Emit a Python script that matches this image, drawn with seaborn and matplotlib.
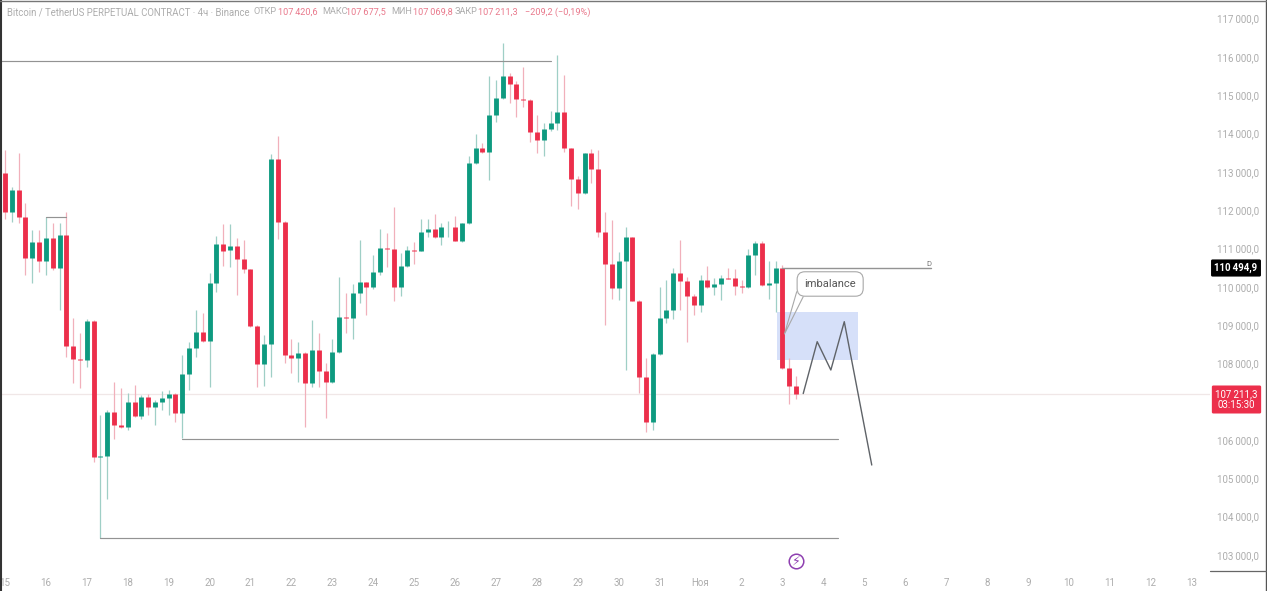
import numpy as np
import pandas as pd
import seaborn as sns
import matplotlib
matplotlib.use("Agg")
import matplotlib.pyplot as plt
from matplotlib.patches import Rectangle

# свечи 4ч, BTCUSDT
opens = [112960, 111958, 112516, 111827, 110741, 111175, 110679, 111263, 110480, 111349,
         108460, 108113, 108095, 109113, 105563, 105589, 106738, 106390, 106346, 106999,
         106633, 107129, 106868, 106999, 107103, 107192, 106712, 107714, 108408, 108826,
         108575, 110089, 111115, 110950, 111055, 110715, 110454, 108982, 107983, 108497,
         113333, 111697, 108217, 108147, 108278, 107479, 108348, 107808, 107505, 108304,
         109201, 109183, 109836, 110115, 110000, 110376, 111002, 110984, 109984, 110548,
         110958, 110940, 111436, 111506, 111305, 111550, 111558, 111185, 111655, 113221,
         113628, 113524, 114481, 114917, 115507, 115283, 114899, 114873, 114046, 113829,
         114108, 114265, 114568, 113612, 112811, 112438, 113482, 113064, 111436, 110593,
         109958, 110671, 111289, 109635, 107651, 106469, 108244, 109175, 109392, 110366,
         110149, 109765, 109522, 110175, 110000, 110071, 110235, 110235, 110026, 109984,
         110827, 111133, 110037, 110105, 110480, 107870, 107420.6]
highs = [113568, 112610, 113490, 112185, 111480, 111480, 111819, 111671, 111663, 111958,
         109175, 108792, 109157, 109131, 106651, 106782, 107505, 107356, 107226, 107434,
         107173, 107200, 107043, 107278, 107304, 107226, 108217, 108565, 109392, 109314,
         110358, 111323, 111637, 111637, 111271, 111219, 110470, 109000, 108739, 113464,
         113933, 111710, 108627, 108565, 108290, 109131, 108792, 108001, 108635, 110261,
         109844, 110071, 111219, 110130, 110827, 111498, 111410, 112072, 110872, 111062,
         111175, 111767, 111767, 111898, 111671, 111715, 111845, 111670, 113411, 113978,
         113743, 115507, 115395, 116353, 115578, 115377, 115742, 114890, 114481, 114273,
         114586, 116047, 115525, 113630, 112889, 113500, 113586, 113568, 111958, 111741,
         110914, 111566, 111310, 109650, 108139, 108260, 110000, 110175, 110488, 111219,
         110261, 109800, 110305, 110540, 110227, 110305, 110488, 110454, 110175, 110984,
         111201, 111201, 110679, 110679, 110566, 108131, 107677.5]
lows = [111767, 111697, 111663, 110305, 110105, 110392, 110305, 110436, 109392, 108173,
        107479, 107356, 107912, 105433, 103433, 104459, 106017, 106312, 106260, 106607,
        106547, 106651, 106390, 106782, 106651, 106477, 106043, 107304, 108173, 108557,
        107382, 109870, 110540, 110522, 109783, 110350, 108956, 107374, 107408, 107651,
        111245, 108001, 107756, 107521, 106346, 107390, 107390, 106565, 107479, 108278,
        108792, 108635, 109567, 109261, 109932, 110305, 110506, 109635, 109765, 110522,
        110593, 110932, 111305, 111271, 111088, 111305, 111185, 111170, 111640, 113210,
        113498, 112785, 114307, 114900, 114787, 114421, 114698, 113785, 113482, 113419,
        114072, 114090, 113524, 112106, 112020, 112420, 112699, 111305, 109000, 109671,
        109653, 107826, 109620, 107234, 106216, 106260, 108220, 109045, 109149, 109392,
        108565, 109261, 109348, 109966, 109783, 109653, 110190, 109783, 109844, 109970,
        110305, 110020, 109671, 109348, 107860, 106939, 107069.8]
closes = [111958, 112516, 111827, 110741, 111175, 110679, 111263, 110480, 111349, 108460,
          108113, 108095, 109113, 105563, 105589, 106738, 106390, 106346, 106999, 106633,
          107129, 106868, 106999, 107103, 107192, 106712, 107714, 108408, 108826, 108575,
          110089, 111115, 110940, 111055, 110715, 110454, 108982, 107983, 108497, 113333,
          111697, 108217, 108147, 108262, 107479, 108348, 107808, 107505, 108304, 109201,
          109183, 109836, 110115, 110000, 110376, 111002, 110984, 109984, 110548, 110958,
          110940, 111436, 111506, 111305, 111550, 111558, 111185, 111655, 113221, 113628,
          113524, 114481, 114917, 115507, 115283, 114899, 114873, 114046, 113829, 114108,
          114265, 114568, 113612, 112811, 112438, 113482, 113064, 111436, 110593, 109958,
          110671, 111289, 109635, 107651, 106469, 108244, 109175, 109392, 110366, 110149,
          109765, 109522, 110175, 110000, 110071, 110235, 110209, 110018, 109984, 110827,
          111133, 110037, 110105, 110480, 107870, 107420.6, 107211.3]

day_labels = ["15", "16", "17", "18", "19", "20", "21", "22", "23", "24", "25", "26", "27",
              "28", "29", "30", "31", "Ноя", "2", "3", "4", "5", "6", "7", "8", "9", "10",
              "11", "12", "13"]
# 107000 закрыта плашкой текущей цены, на оригинале её не видно
price_ticks = [103000, 104000, 105000, 106000, 108000, 109000, 110000, 111000,
               112000, 113000, 114000, 115000, 116000, 117000]

# разметка автора
high_level = 115878
swing_level = 111819
low_level_1 = 106025
low_level_2 = 103433
d_level = 110494.9
last_price = 107211.3
zone_low, zone_high = 108087, 109348
path_bars = [117.05, 119.1, 121.1, 123.07, 127.1]
path_prices = [107211, 108565, 107826, 109087, 105346]

RED = "#ec2f4b"
GREEN = "#0e9a80"
GREY = "#adadad"
LINE = "#939393"
FONT = ["Roboto", "DejaVu Sans"]


def fmt_price(v):
    return f"{v:,.1f}".replace(",", "\u2009").replace(".", ",")


sns.set_theme(style="white")
plt.rcParams["font.family"] = FONT

n = len(opens)
bars = np.arange(n)
candles = pd.DataFrame({"bar": bars, "open": opens, "high": highs, "low": lows, "close": closes})
candles["side"] = np.where(candles["close"] >= candles["open"], "up", "down")

wicks = candles.melt(id_vars=["bar", "side"], value_vars=["low", "high"], value_name="price")
bodies = candles.melt(id_vars=["bar", "side"], value_vars=["open", "close"], value_name="price")

W, H = 1267, 591
fig = plt.figure(figsize=(W / 100, H / 100), dpi=100)
ax = fig.add_axes([0, 20 / H, 1210 / W, 571 / H])
ax.set_xlim(-0.733, 176.7)
ax.set_ylim(102580, 117483)

ax.axhline(last_price, color="#f0e7e7", lw=0.9, zorder=0)

# зона дисбаланса
ax.add_patch(Rectangle((113.2, zone_low), 11.9, zone_high - zone_low, color="#d6e0f9", lw=0, zorder=1))

palette = {"up": GREEN, "down": RED}
wick_palette = {"up": "#9fcfc6", "down": "#f1b0bb"}
sns.lineplot(data=wicks, x="bar", y="price", hue="side", units="bar", estimator=None,
             palette=wick_palette, lw=0.9, legend=False, ax=ax, zorder=2, solid_capstyle="butt")
sns.lineplot(data=bodies, x="bar", y="price", hue="side", units="bar", estimator=None,
             palette=palette, lw=3.5, legend=False, ax=ax, zorder=3, solid_capstyle="butt")

# уровни
ax.plot([-0.7, 80], [high_level, high_level], color=LINE, lw=0.85, zorder=4)
ax.plot([6, 9], [swing_level, swing_level], color=LINE, lw=0.85, zorder=4)
ax.plot([26, 122.2], [low_level_1, low_level_1], color=LINE, lw=0.85, zorder=4)
ax.plot([14, 122.2], [low_level_2, low_level_2], color=LINE, lw=0.85, zorder=4)
ax.plot([114, 135.8], [d_level, d_level], color=LINE, lw=1.0, zorder=4)
ax.text(135.5, d_level + 30, "D", fontsize=5.5, color="#777777", ha="center", va="bottom")

ax.plot(path_bars, path_prices, color="#5f6368", lw=1.0, zorder=5)

# выноска imbalance
ax.text(121.0, 110071, "imbalance", fontsize=8, color="#555555", ha="center", va="center", zorder=6,
        bbox=dict(boxstyle="round,pad=0.65,rounding_size=0.7", fc="white", ec="#a8a8a8", lw=0.8))
ax.plot([116.1, 114.3, 117.05], [109870, 108766, 109739], color="#a8a8a8", lw=0.8, zorder=7)

# значок молнии
ax.scatter([116], [102841], s=110, facecolor="white", edgecolor="#8e3fb0", lw=1.1, zorder=6)
ax.text(116, 102841, "\u26a1", family="DejaVu Sans", fontsize=9, color="#8e3fb0", ha="center", va="center", zorder=7)

ax.set_xticks(np.arange(len(day_labels)) * 6)
ax.set_xticklabels(day_labels, fontsize=7, color=GREY)
ax.set_yticks(price_ticks)
ax.set_yticklabels([fmt_price(p) for p in price_ticks], fontsize=7, color=GREY)
ax.yaxis.tick_right()
ax.tick_params(axis="x", length=0, pad=5)
ax.tick_params(axis="y", length=0, pad=5)
ax.set_xlabel("")
ax.set_ylabel("")
sns.despine(ax=ax, left=True, right=True, top=True, bottom=True)

# рамка скриншота
fig.add_artist(plt.Line2D([0.7 / W, 0.7 / W], [0, 1], color="#333333", lw=1.5))
fig.add_artist(plt.Line2D([1266 / W, 1266 / W], [0, 1], color="#555555", lw=1.0))
fig.add_artist(plt.Line2D([0, 1], [1 - 0.5 / H, 1 - 0.5 / H], color="#777777", lw=1.0))
fig.add_artist(plt.Line2D([1210 / W, 1266 / W], [20 / H, 20 / H], color="#666666", lw=0.9))

# шапка
header = [
    (7, "Bitcoin / TetherUS PERPETUAL CONTRACT · 4ч · Binance", GREY),
    (254, "ОТКР", GREY), (278, "107\u2009420,6", "#e9798c"),
    (322, "МАКС", GREY), (346, "107\u2009677,5", "#e9798c"),
    (391, "МИН", GREY), (413, "107\u2009069,8", "#e9798c"),
    (455, "ЗАКР", GREY), (478, "107\u2009211,3", "#e9798c"),
    (525, "−209,2 (−0,19%)", "#e9798c"),
]
for px, label, col in header:
    fig.text(px / W, 1 - 12 / H, label, fontsize=6.9 if px == 7 else 6.6, color=col, ha="left", va="center")

# плашки цены
fig.text(1236 / W, 1 - 268 / H, "110\u2009494,9", fontsize=7, color="white", ha="center", va="center",
         fontweight="bold", zorder=10,
         bbox=dict(boxstyle="round,pad=0.35,rounding_size=0.15", fc="black", ec="none"))
fig.text(1236.5 / W, 1 - 399.5 / H, "107\u2009211,3\n03:15:30", fontsize=7, color="white", ha="center",
         va="center", linespacing=1.15, zorder=10,
         bbox=dict(boxstyle="round,pad=0.35,rounding_size=0.15", fc=RED, ec="none"))

fig.savefig("out.png", dpi=100)
